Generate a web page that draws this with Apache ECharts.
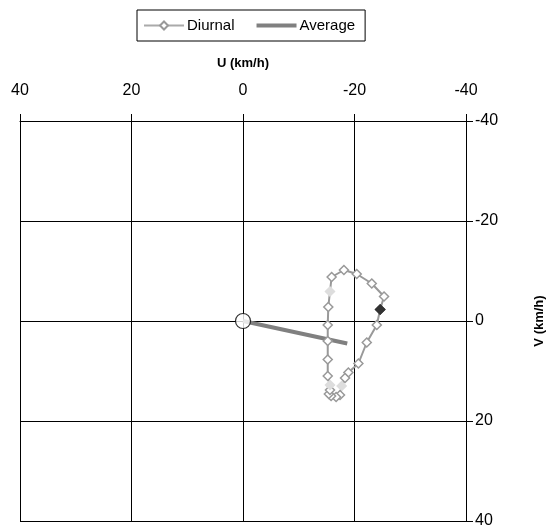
<!DOCTYPE html>
<html>
<head>
<meta charset="utf-8">
<script src="https://cdn.jsdelivr.net/npm/echarts@6/dist/echarts.min.js"></script>
<style>html,body{margin:0;padding:0;background:#fff;}#c{width:550px;height:529px;}</style>
</head>
<body>
<div id="c"></div>
<script>
// Hourly diurnal wind components (km/h), hour 0..23
const diurnalU = [-24.6,-24.0,-22.2,-20.7,-18.9,-18.3,-17.7,-17.4,-16.7,-15.8,-15.4,-15.6,-15.6,-15.2,-15.2,-15.2,-15.2,-15.3,-15.6,-15.9,-18.1,-20.4,-23.1,-25.3];
const diurnalV = [-2.3,0.8,4.3,8.5,10.3,11.4,13.0,14.8,15.2,15.0,14.6,13.8,12.8,11.0,7.7,4.0,0.8,-2.8,-5.9,-8.8,-10.2,-9.4,-7.5,-4.9];
const darkHours = [0];
const lightHours = [6, 12, 18];
// Average vector from origin
const avgU = [0, -18.7];
const avgV = [0, 4.5];
const axisTicks = [-40, -20, 0, 20, 40];

const diurnalData = diurnalU.map((u, i) => {
  const item = { value: [u, diurnalV[i]] };
  if (darkHours.includes(i)) item.itemStyle = { color: '#333', borderColor: '#333' };
  if (lightHours.includes(i)) item.itemStyle = { color: '#ddd', borderColor: '#ddd' };
  return item;
});
// close the loop back to hour 0
diurnalData.push({ value: [diurnalU[0], diurnalV[0]], itemStyle: { color: '#333', borderColor: '#333' } });

const avgData = avgU.map((u, i) => ({ value: [u, avgV[i]] }));

const chart = echarts.init(document.getElementById('c'), null, { renderer: 'canvas' });
chart.setOption({
  animation: false,
  textStyle: { fontFamily: 'Liberation Sans, Arial, sans-serif' },
  legend: {
    top: 10, left: 137,
    borderColor: '#000', borderWidth: 1,
    padding: [8, 10, 8, 6],
    itemGap: 20, itemWidth: 40, itemHeight: 10,
    textStyle: { fontSize: 15, color: '#000', fontFamily: 'Liberation Sans, Arial, sans-serif', padding: [0, 0, 0, -2] },
    data: [
      { name: 'Diurnal', lineStyle: { color: '#aaa', width: 2 } },
      { name: 'Average', itemStyle: { opacity: 0 }, lineStyle: { width: 4, color: '#808080' } }
    ]
  },
  grid: { left: 20, right: 84, top: 121, bottom: 8, outerBoundsMode: 'none', containLabel: false },
  xAxis: {
    type: 'value', position: 'top', inverse: true,
    min: axisTicks[0], max: axisTicks[axisTicks.length - 1], interval: 20,
    name: 'U (km/h)', nameLocation: 'middle', nameGap: 51,
    nameTextStyle: { fontSize: 13, fontWeight: 'bold', color: '#000' },
    axisLine: { show: true, onZero: false, lineStyle: { color: '#000', width: 1 } },
    axisTick: { show: true, inside: false, length: 7, lineStyle: { color: '#000' } },
    axisLabel: { fontSize: 16, color: '#000', margin: 22 },
    splitLine: { show: true, lineStyle: { color: '#000', width: 1 } }
  },
  yAxis: {
    type: 'value', position: 'right', inverse: true,
    min: axisTicks[0], max: axisTicks[axisTicks.length - 1], interval: 20,
    name: 'V (km/h)', nameLocation: 'middle', nameGap: 67, nameRotate: 90,
    nameTextStyle: { fontSize: 13, fontWeight: 'bold', color: '#000' },
    axisLine: { show: true, onZero: false, lineStyle: { color: '#000', width: 1 } },
    axisTick: { show: true, inside: false, length: 7, lineStyle: { color: '#000' } },
    axisLabel: { fontSize: 16, color: '#000', margin: 9 },
    splitLine: { show: true, lineStyle: { color: '#000', width: 1 } }
  },
  series: [
    {
      name: 'Average', type: 'line', z: 2,
      data: avgData,
      lineStyle: { color: '#808080', width: 4 },
      itemStyle: { color: '#808080' },
      symbol: 'none'
    },
    {
      name: 'Diurnal', type: 'line', z: 3,
      data: diurnalData,
      symbol: 'diamond', symbolSize: 9,
      lineStyle: { color: '#999', width: 2 },
      itemStyle: { color: '#fff', borderColor: '#999', borderWidth: 1.5 }
    },
    {
      name: 'origin', type: 'scatter', z: 4,
      data: [avgData[0]], symbol: 'circle', symbolSize: 15,
      itemStyle: { color: '#fff', borderColor: '#000', borderWidth: 1.2 }
    }
  ]
});
</script>
</body>
</html>
